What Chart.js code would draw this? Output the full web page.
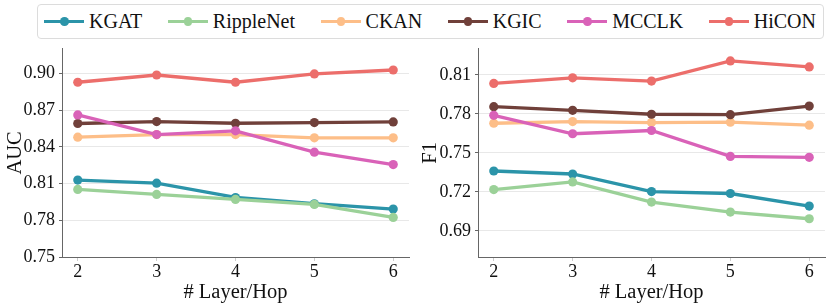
<!DOCTYPE html>
<html>
<head>
<meta charset="utf-8">
<script src="https://cdn.jsdelivr.net/npm/chart.js@4"></script>
<style>
  body { margin: 0; background: #fff; width: 831px; height: 305px; position: relative; overflow: hidden; font-family: 'Liberation Serif', serif; }
  #legend { position: absolute; z-index: 2; left: 37px; top: 4px; width: 787px; height: 35px; background: #fff; border: 1px solid #dcdcdc; border-radius: 4px; box-sizing: border-box; display: flex; align-items: center; padding-left: 6px; }
  .item { display: flex; align-items: center; margin-right: 25.5px; font-family: 'Liberation Serif', serif; font-size: 20px; color: #111; }
  .sw { position: relative; width: 40px; height: 3.5px; margin-right: 5px; }
  .sw i { position: absolute; left: 16px; top: -2.5px; width: 8.5px; height: 8.5px; border-radius: 50%; }
  .wrap { position: absolute; z-index: 1; top: 34px; height: 271px; }
</style>
</head>
<body>
<div id="legend"></div>
<div class="wrap" style="left:0; width:415px;"><canvas id="auc"></canvas></div>
<div class="wrap" style="left:415px; width:416px;"><canvas id="f1"></canvas></div>
<script>
const hops = [2, 3, 4, 5, 6];
const names = ['KGAT', 'RippleNet', 'CKAN', 'KGIC', 'MCCLK', 'HiCON'];
const colors = ['#2b94a9', '#9bd198', '#fdbe88', '#70403a', '#d962b8', '#ec6e6b'];

// AUC values
const aucKGAT      = [0.8128, 0.8103, 0.7986, 0.7935, 0.7891];
const aucRippleNet = [0.8052, 0.8011, 0.7970, 0.7929, 0.7823];
const aucCKAN      = [0.8478, 0.8500, 0.8500, 0.8473, 0.8473];
const aucKGIC      = [0.8590, 0.8606, 0.8592, 0.8598, 0.8603];
const aucMCCLK     = [0.8660, 0.8500, 0.8530, 0.8356, 0.8255];
const aucHiCON     = [0.8927, 0.8986, 0.8927, 0.8995, 0.9027];

// F1 values
const f1KGAT      = [0.7361, 0.7338, 0.7203, 0.7188, 0.7091];
const f1RippleNet = [0.7218, 0.7277, 0.7122, 0.7045, 0.6994];
const f1CKAN      = [0.7728, 0.7741, 0.7733, 0.7736, 0.7713];
const f1KGIC      = [0.7855, 0.7827, 0.7797, 0.7794, 0.7860];
const f1MCCLK     = [0.7789, 0.7647, 0.7672, 0.7473, 0.7466];
const f1HiCON     = [0.8034, 0.8077, 0.8052, 0.8207, 0.8161];

const aucTicks = [0.75, 0.78, 0.81, 0.84, 0.87, 0.90];
const f1Ticks = [0.69, 0.72, 0.75, 0.78, 0.81];

const serif = "'Liberation Serif', serif";

// legend
const leg = document.getElementById('legend');
names.forEach(function (n, i) {
    const it = document.createElement('div');
    it.className = 'item';
    it.innerHTML = '<span class="sw" style="background:' + colors[i] + '"><i style="background:' + colors[i] + '"></i></span>' + n;
    leg.appendChild(it);
});

function makeChart(id, series, yTitle, yMin, yMax, yTicks, yWidth) {
    const datasets = series.map(function (vals, i) {
        return {
            label: names[i],
            data: hops.map(function (h, j) { return { x: h, y: vals[j] }; }),
            borderColor: colors[i],
            backgroundColor: colors[i],
            borderWidth: 3.3,
            pointRadius: 4.6,
            pointBorderWidth: 0,
            order: series.length - 1 - i
        };
    });
    return new Chart(document.getElementById(id), {
        type: 'line',
        data: { datasets: datasets },
        options: {
            responsive: true,
            maintainAspectRatio: false,
            animation: false,
            layout: { padding: { top: 4, right: 6, left: 0, bottom: 0 } },
            plugins: { legend: { display: false }, tooltip: { enabled: false } },
            scales: {
                x: {
                    type: 'linear',
                    min: 1.8,
                    max: 6.2,
                    afterBuildTicks: function (s) { s.ticks = hops.map(function (v) { return { value: v }; }); },
                    afterFit: function (s) { s.height = 48; },
                    grid: { drawOnChartArea: false, tickLength: 4, color: '#cccccc' },
                    border: { color: '#666666', width: 1 },
                    ticks: { color: '#111', font: { family: serif, size: 18 }, padding: 0 },
                    title: { display: true, text: '# Layer/Hop', color: '#111', font: { family: serif, size: 20.5 }, padding: { top: 0, bottom: 0 } }
                },
                y: {
                    min: yMin,
                    max: yMax,
                    afterBuildTicks: function (s) { s.ticks = yTicks.map(function (v) { return { value: v }; }); },
                    afterFit: function (s) { s.width = yWidth; },
                    grid: { color: '#e8e8e8', tickLength: 3, tickColor: '#666666' },
                    border: { color: '#666666', width: 1 },
                    ticks: { color: '#111', font: { family: serif, size: 18 }, padding: 4,
                        callback: function (v) { return v.toFixed(2); } },
                    title: { display: true, text: yTitle, color: '#111', font: { family: serif, size: 20.5 }, padding: { top: 3, bottom: 0 } }
                }
            }
        }
    });
}

makeChart('auc', [aucKGAT, aucRippleNet, aucCKAN, aucKGIC, aucMCCLK, aucHiCON], 'AUC', 0.75, 0.92, aucTicks, 62);
makeChart('f1', [f1KGAT, f1RippleNet, f1CKAN, f1KGIC, f1MCCLK, f1HiCON], 'F1', 0.67, 0.83, f1Ticks, 63);
</script>
</body>
</html>
